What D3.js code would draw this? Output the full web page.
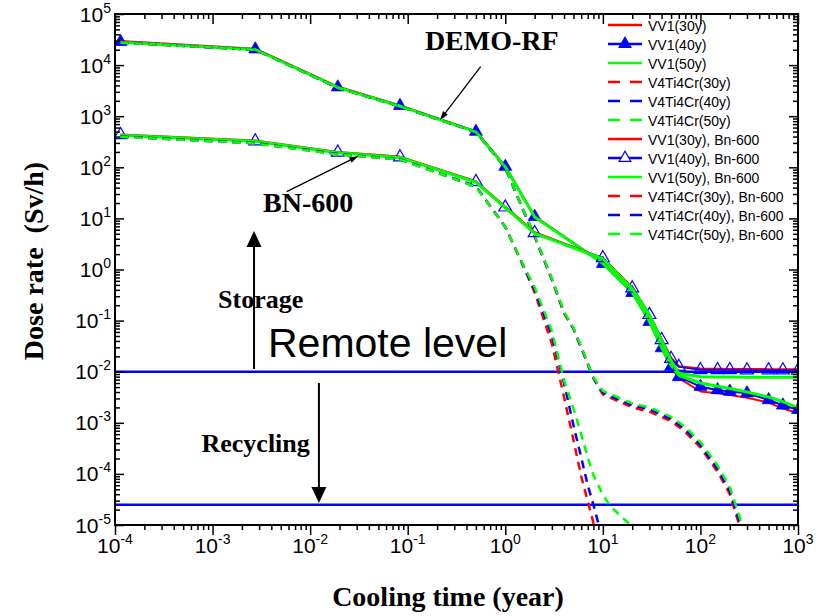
<!DOCTYPE html>
<html>
<head>
<meta charset="utf-8">
<script src="https://cdn.jsdelivr.net/npm/d3@7"></script>
<style>
  body { margin: 0; background: #fff; }
  svg { display: block; }
</style>
</head>
<body>
<svg id="chart" width="829" height="616"></svg>
<script>
// ---- cooling times (years): 1 hour, 1 day, 1 week, 1 month, 6 months, then years ----
const tSolid = [1.14e-4, 2.74e-3, 1.92e-2, 8.33e-2, 0.5, 1, 2, 10, 20, 30, 40, 50, 60, 100, 150, 200, 300, 500, 700, 1000];
const tDemoV4 = [1.14e-4, 2.74e-3, 1.92e-2, 8.33e-2, 0.5, 1, 1.5, 2, 3, 4, 5, 6, 8, 10, 20, 30, 50, 70, 100, 150, 200, 250, 300];
const tBnV4_30 = [1.14e-4, 2.74e-3, 1.92e-2, 8.33e-2, 0.5, 1, 1.5, 2, 3, 4, 5, 6, 7, 8, 9];
const tBnV4_40 = [1.14e-4, 2.74e-3, 1.92e-2, 8.33e-2, 0.5, 1, 1.5, 2, 3, 4, 5, 6, 7, 8, 9, 10];
const tBnV4_50 = [1.14e-4, 2.74e-3, 1.92e-2, 8.33e-2, 0.5, 1, 1.5, 2, 3, 4, 5, 6, 7, 8, 10, 12, 15, 20];

// ---- dose rate (Sv/h), DEMO-RF irradiation ----
const demoVV1_30 = [2.95e4, 2.1e4, 3.8e3, 1.63e3, 510, 105, 11, 1.35, 0.36, 0.097, 0.029, 0.0124, 0.0075, 0.0041, 0.0038, 0.0035, 0.0031, 0.0025, 0.0019, 0.00155];
const demoVV1_40 = [2.85e4, 2.05e4, 3.7e3, 1.6e3, 500, 103, 10.8, 1.3, 0.35, 0.095, 0.029, 0.0126, 0.0079, 0.0051, 0.0044, 0.0041, 0.0038, 0.0028, 0.0022, 0.0018];
const demoVV1_50 = [2.8e4, 2.02e4, 3.65e3, 1.58e3, 495, 102, 10.7, 1.32, 0.36, 0.097, 0.030, 0.0135, 0.0085, 0.0060, 0.0052, 0.0047, 0.0040, 0.0032, 0.0026, 0.00195];
const demoV4_30 = [2.75e4, 2.0e4, 3.6e3, 1.55e3, 490, 97, 15.5, 4.4, 0.63, 0.14, 0.069, 0.029, 7.4e-3, 3.6e-3, 2.0e-3, 1.65e-3, 1.08e-3, 6.6e-4, 3.3e-4, 1.1e-4, 4.0e-5, 1.0e-5, 3e-6];
const demoV4_40 = [2.75e4, 2.0e4, 3.6e3, 1.55e3, 490, 98, 15.8, 4.5, 0.65, 0.145, 0.07, 0.03, 7.6e-3, 3.9e-3, 2.2e-3, 1.85e-3, 1.2e-3, 7.4e-4, 3.7e-4, 1.25e-4, 4.7e-5, 1.2e-5, 4e-6];
const demoV4_50 = [2.75e4, 2.0e4, 3.6e3, 1.55e3, 490, 99, 16, 4.6, 0.67, 0.15, 0.072, 0.031, 7.8e-3, 4.2e-3, 2.4e-3, 2.0e-3, 1.3e-3, 8.3e-4, 4.2e-4, 1.45e-4, 5.5e-5, 1.5e-5, 5e-6];

// ---- dose rate (Sv/h), BN-600 irradiation ----
const bnVV1_30 = [435, 330, 197, 160, 53, 16.8, 5.3, 1.65, 0.44, 0.13, 0.043, 0.0185, 0.0127, 0.0114, 0.0113, 0.0112, 0.0112, 0.0111, 0.0111, 0.0110];
const bnVV1_40 = [430, 325, 195, 158, 52, 16.5, 5.2, 1.68, 0.43, 0.13, 0.042, 0.018, 0.0125, 0.0108, 0.0108, 0.0108, 0.0107, 0.0107, 0.0107, 0.0106];
const bnVV1_50 = [425, 322, 193, 156, 51, 16.2, 5.1, 1.62, 0.42, 0.128, 0.041, 0.0165, 0.0093, 0.0080, 0.0079, 0.0079, 0.0078, 0.0078, 0.0078, 0.0078];
const bnV4_30 = [398, 295, 180, 143, 42, 6.8, 1.26, 0.355, 0.0355, 3.2e-3, 4.6e-4, 8.9e-5, 2.95e-5, 1.1e-5, 5.0e-6];
const bnV4_40 = [400, 297, 182, 144, 42.5, 6.8, 1.29, 0.40, 0.052, 6.0e-3, 8.9e-4, 2.1e-4, 6.0e-5, 2.5e-5, 1.07e-5, 5.0e-6];
const bnV4_50 = [395, 293, 178, 142, 41.5, 6.8, 1.32, 0.45, 0.063, 6.8e-3, 1.9e-3, 6.0e-4, 2.1e-4, 9.5e-5, 3.9e-5, 2.3e-5, 1.55e-5, 9.3e-6];

// ---- legend labels ----
const seriesNames = [
  "VV1(30y)", "VV1(40y)", "VV1(50y)",
  "V4Ti4Cr(30y)", "V4Ti4Cr(40y)", "V4Ti4Cr(50y)",
  "VV1(30y), Bn-600", "VV1(40y), Bn-600", "VV1(50y), Bn-600",
  "V4Ti4Cr(30y), Bn-600", "V4Ti4Cr(40y), Bn-600", "V4Ti4Cr(50y), Bn-600"
];

// ---- axes ----
const xTickExps = [-4, -3, -2, -1, 0, 1, 2, 3];
const yTickExps = [-5, -4, -3, -2, -1, 0, 1, 2, 3, 4, 5];
const remoteLevels = [1e-2, 2.5e-5];

const RED = "#ff0000", BLUE = "#0000ff", GREEN = "#00ff00";
const style = {
  solid: { dash: null },
  dashed: { dash: "8,6" }
};

const series = [
  { name: seriesNames[0], t: tSolid, v: demoVV1_30, color: RED, kind: "solid", w: 2 },
  { name: seriesNames[1], t: tSolid, v: demoVV1_40, color: BLUE, kind: "solid", w: 2, marker: "filled" },
  { name: seriesNames[2], t: tSolid, v: demoVV1_50, color: GREEN, kind: "solid", w: 3 },
  { name: seriesNames[3], t: tDemoV4, v: demoV4_30, color: RED, kind: "dashed", w: 2.5 },
  { name: seriesNames[4], t: tDemoV4, v: demoV4_40, color: BLUE, kind: "dashed", w: 2.5 },
  { name: seriesNames[5], t: tDemoV4, v: demoV4_50, color: GREEN, kind: "dashed", w: 2.5 },
  { name: seriesNames[6], t: tSolid, v: bnVV1_30, color: RED, kind: "solid", w: 2.5 },
  { name: seriesNames[7], t: tSolid, v: bnVV1_40, color: BLUE, kind: "solid", w: 1.5, marker: "open" },
  { name: seriesNames[8], t: tSolid, v: bnVV1_50, color: GREEN, kind: "solid", w: 3 },
  { name: seriesNames[9], t: tBnV4_30, v: bnV4_30, color: RED, kind: "dashed", w: 2.5 },
  { name: seriesNames[10], t: tBnV4_40, v: bnV4_40, color: BLUE, kind: "dashed", w: 2.5 },
  { name: seriesNames[11], t: tBnV4_50, v: bnV4_50, color: GREEN, kind: "dashed", w: 2.5 }
];

const plot = { left: 115, right: 798, top: 14, bottom: 525 };
const x = d3.scaleLog().domain([1e-4, 1e3]).range([plot.left, plot.right]);
const y = d3.scaleLog().domain([1e-5, 1e5]).range([plot.bottom, plot.top]);

const svg = d3.select("#chart");
const SANS = "'Liberation Sans', Arial, Helvetica, sans-serif";
const SERIF = "'Liberation Serif', 'Times New Roman', Times, serif";

svg.append("defs").append("clipPath").attr("id", "plotClip")
  .append("rect")
  .attr("x", plot.left).attr("y", plot.top)
  .attr("width", plot.right - plot.left).attr("height", plot.bottom - plot.top);

const plotG = svg.append("g").attr("clip-path", "url(#plotClip)");

// remote-handling limit lines
plotG.selectAll("line.level").data(remoteLevels).join("line")
  .attr("class", "level")
  .attr("x1", x(1e-4)).attr("x2", x(1e3))
  .attr("y1", d => y(d)).attr("y2", d => y(d))
  .attr("stroke", BLUE).attr("stroke-width", 2.5);

// curves
const line = d3.line().x(d => x(d[0])).y(d => y(d[1]));
const tri = d3.symbol().type(d3.symbolTriangle).size(72);

series.forEach(s => {
  const pts = s.t.map((t, i) => [t, s.v[i]]);
  plotG.append("path")
    .datum(pts)
    .attr("d", line)
    .attr("fill", "none")
    .attr("stroke", s.color)
    .attr("stroke-width", s.w)
    .attr("stroke-dasharray", style[s.kind].dash)
    .attr("stroke-linejoin", "round");
  if (s.marker) {
    plotG.selectAll(null).data(pts).join("path")
      .attr("d", tri)
      .attr("transform", d => `translate(${x(d[0])},${y(d[1])})`)
      .attr("fill", s.marker === "filled" ? s.color : "none")
      .attr("stroke", s.color)
      .attr("stroke-width", s.marker === "filled" ? 0.8 : 1.2);
  }
});

// ---- frame and ticks ----
const minorVals = (lo, hi) => {
  const out = [];
  for (let e = lo; e < hi; e++) for (let m = 2; m <= 9; m++) out.push(m * Math.pow(10, e));
  return out;
};
const xMajor = xTickExps.map(e => Math.pow(10, e));
const yMajor = yTickExps.map(e => Math.pow(10, e));
const xMinor = minorVals(-4, 3);
const yMinor = minorVals(-5, 5);

function tickAxis(axis, vals, size, transform) {
  const g = svg.append("g").attr("transform", transform)
    .call(axis.tickValues(vals).tickSize(size).tickSizeOuter(0).tickFormat(() => ""));
  g.select(".domain").remove();
  g.selectAll(".tick line").attr("stroke", "#000").attr("stroke-width", 1.5);
  return g;
}
tickAxis(d3.axisBottom(x), xMajor, 10, `translate(0,${plot.bottom})`);
tickAxis(d3.axisBottom(x), xMinor, 5, `translate(0,${plot.bottom})`);
tickAxis(d3.axisTop(x), xMajor, -10, `translate(0,${plot.top})`);
tickAxis(d3.axisTop(x), xMinor, -5, `translate(0,${plot.top})`);
tickAxis(d3.axisLeft(y), yMajor, -9, `translate(${plot.left},0)`);
tickAxis(d3.axisLeft(y), yMinor, -5, `translate(${plot.left},0)`);
tickAxis(d3.axisRight(y), yMajor, -9, `translate(${plot.right},0)`);
tickAxis(d3.axisRight(y), yMinor, -5, `translate(${plot.right},0)`);

svg.append("rect")
  .attr("x", plot.left).attr("y", plot.top)
  .attr("width", plot.right - plot.left).attr("height", plot.bottom - plot.top)
  .attr("fill", "none").attr("stroke", "#000").attr("stroke-width", 2);

// power-of-ten tick labels
function powLabel(sel, e) {
  sel.append("tspan").text("10");
  sel.append("tspan").attr("dy", -9).attr("font-size", 14).text(String(e));
}
svg.append("g").selectAll("text").data(xTickExps).join("text")
  .attr("x", e => x(Math.pow(10, e)))
  .attr("y", 553)
  .attr("text-anchor", "middle")
  .attr("font-family", SANS).attr("font-size", 21)
  .each(function (e) { powLabel(d3.select(this), e); });

svg.append("g").selectAll("text").data(yTickExps).join("text")
  .attr("x", 111)
  .attr("y", e => y(Math.pow(10, e)) + 7.5)
  .attr("text-anchor", "end")
  .attr("font-family", SANS).attr("font-size", 21)
  .each(function (e) { powLabel(d3.select(this), e); });

// axis titles
svg.append("text")
  .attr("x", 448).attr("y", 606)
  .attr("text-anchor", "middle")
  .attr("font-family", SERIF).attr("font-weight", "bold").attr("font-size", 28)
  .text("Cooling time (year)");

svg.append("text")
  .attr("transform", "translate(43,261) rotate(-90)")
  .attr("text-anchor", "middle")
  .attr("font-family", SERIF).attr("font-weight", "bold").attr("font-size", 28)
  .style("white-space", "pre")
  .text("Dose rate  (Sv/h)");

// ---- annotations (anchored in data coordinates) ----
const notes = [
  { text: "DEMO-RF", t: 0.15, v: 1.97e4, size: 28, font: SERIF, bold: true },
  { text: "BN-600", t: 3.29e-3, v: 13.3, size: 28, font: SERIF, bold: true },
  { text: "Storage", t: 1.14e-3, v: 0.177, size: 26, font: SERIF, bold: true },
  { text: "Recycling", t: 7.7e-4, v: 2.7e-4, size: 26, font: SERIF, bold: true },
  { text: "Remote level", t: 3.7e-3, v: 0.0194, size: 41, font: SANS, bold: false }
];
svg.append("g").selectAll("text").data(notes).join("text")
  .attr("x", d => x(d.t)).attr("y", d => y(d.v))
  .attr("font-family", d => d.font)
  .attr("font-weight", d => d.bold ? "bold" : "normal")
  .attr("font-size", d => d.size)
  .text(d => d.text);

// arrows: from (t1,v1) to tip (t2,v2)
const arrows = [
  { t1: 0.56, v1: 9300, t2: 0.214, v2: 843, lw: 1.3, hl: 9, hw: 6 },
  { t1: 5.75e-3, v1: 33.3, t2: 0.0312, v2: 166, lw: 1.3, hl: 9, hw: 6 },
  { t1: 2.66e-3, v1: 1.13e-2, t2: 2.66e-3, v2: 5.66, lw: 2, hl: 16, hw: 15 },
  { t1: 1.23e-2, v1: 6.0e-3, t2: 1.23e-2, v2: 2.7e-5, lw: 2, hl: 16, hw: 15 }
];
const arrowG = svg.append("g");
arrows.forEach(a => {
  const x1 = x(a.t1), y1 = y(a.v1), x2 = x(a.t2), y2 = y(a.v2);
  const dx = x2 - x1, dy = y2 - y1, len = Math.hypot(dx, dy);
  const ux = dx / len, uy = dy / len;
  const bx = x2 - ux * a.hl, by = y2 - uy * a.hl;
  arrowG.append("line")
    .attr("x1", x1).attr("y1", y1).attr("x2", bx + ux * 2).attr("y2", by + uy * 2)
    .attr("stroke", "#000").attr("stroke-width", a.lw);
  const px = -uy * a.hw / 2, py = ux * a.hw / 2;
  arrowG.append("path")
    .attr("d", `M${x2},${y2}L${bx + px},${by + py}L${bx - px},${by - py}Z`)
    .attr("fill", "#000");
});

// ---- legend ----
const legend = svg.append("g");
const legRowY = i => 25 + i * 19;
series.forEach((s, i) => {
  const ly = legRowY(i);
  legend.append("line")
    .attr("x1", 608).attr("x2", 642).attr("y1", ly).attr("y2", ly)
    .attr("stroke", s.color).attr("stroke-width", 2.5)
    .attr("stroke-dasharray", s.kind === "dashed" ? "12,10" : null);
  if (s.marker) {
    legend.append("path")
      .attr("d", d3.symbol().type(d3.symbolTriangle).size(60))
      .attr("transform", `translate(625,${ly})`)
      .attr("fill", s.marker === "filled" ? s.color : "#fff")
      .attr("stroke", s.color).attr("stroke-width", 1.2);
  }
  legend.append("text")
    .attr("x", 648).attr("y", ly + 5.5)
    .attr("font-family", SANS).attr("font-size", 14)
    .text(s.name);
});
</script>
</body>
</html>
